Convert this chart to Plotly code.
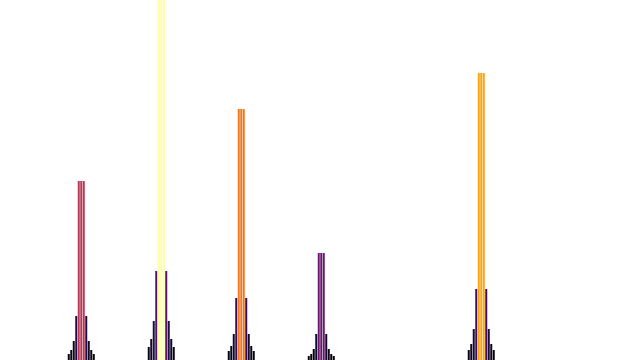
import plotly.graph_objects as go

# Bin layout: 256 bins, clusters of 11 bars
n_bins = 256
cluster_centers = [32, 64, 96, 128, 192]   # centre bin of each peak
offsets = [-5, -4, -3, -2, -1, 0, 1, 2, 3, 4, 5]

# Bar heights, per cluster, left to right
c1 = [6, 10, 19, 44, 179, 179, 179, 44, 19, 10, 6]
c2 = [13, 21, 39, 89, 360, 360, 360, 89, 39, 21, 13]
c3 = [9, 14, 26, 62, 251, 251, 251, 62, 26, 14, 9]
c4 = [4, 6, 11, 26, 107, 107, 107, 26, 11, 6, 4]
c6 = [10, 16, 31, 71, 287, 287, 287, 71, 31, 16, 10]
clusters = [c1, c2, c3, c4, c6]

xs, ys = [], []
for c, vals in zip(cluster_centers, clusters):
    for o, v in zip(offsets, vals):
        xs.append(c + o)
        ys.append(v)

ymax = max(ys)

fig = go.Figure(go.Bar(
    x=xs, y=ys,
    marker=dict(color=ys, colorscale="Inferno", cmin=0, cmax=ymax,
                line=dict(width=0)),
))
fig.update_layout(
    width=640, height=360,
    margin=dict(l=0, r=0, t=0, b=0),
    paper_bgcolor="white", plot_bgcolor="white",
    bargap=0.2, showlegend=False,
    xaxis=dict(range=[-0.5, n_bins - 0.5], visible=False),
    yaxis=dict(range=[0, ymax], visible=False),
)
fig.write_html("out.html")
